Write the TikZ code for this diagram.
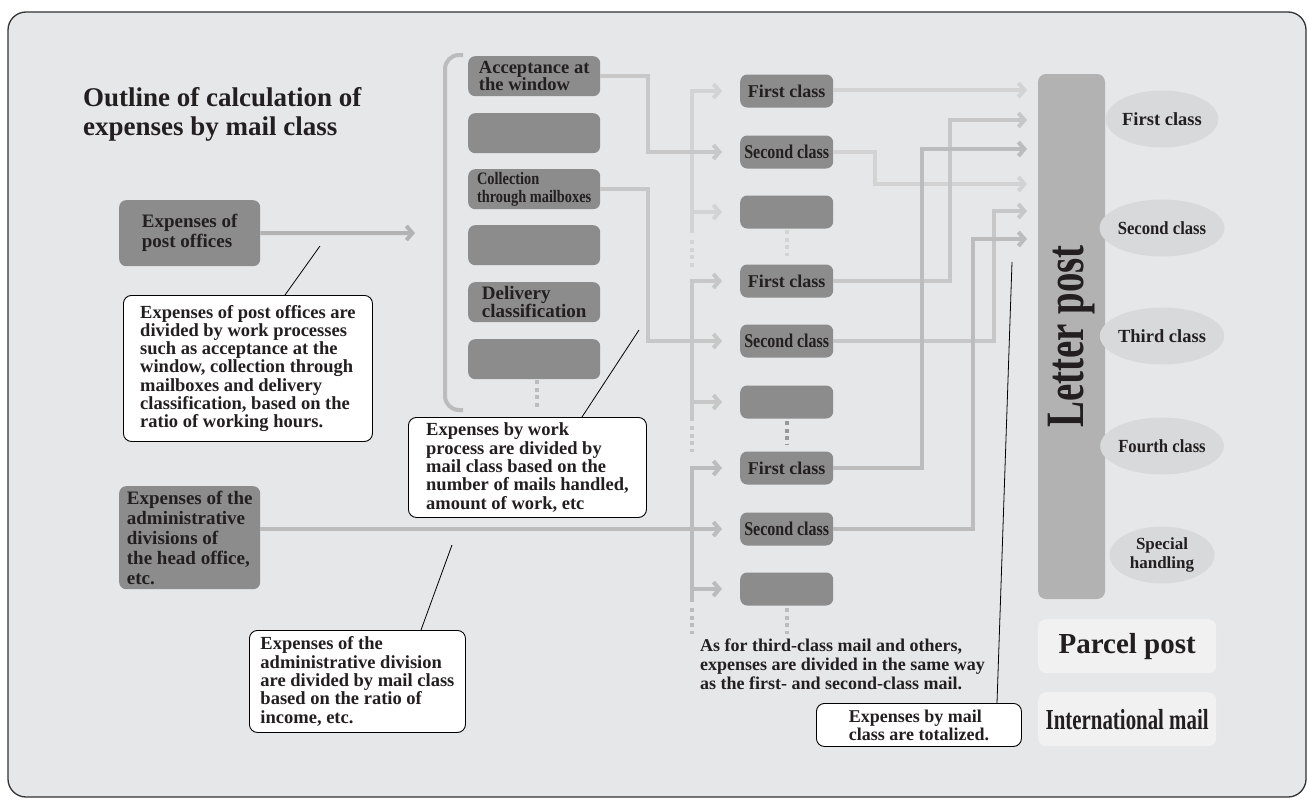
\documentclass[tikz,border=0pt]{standalone}
\usepackage{fontspec}
\setmainfont{Liberation Serif}
\newfontfamily\cnda[FakeStretch=0.82]{Liberation Serif}
\newfontfamily\cndb[FakeStretch=0.72]{Liberation Serif}
\newfontfamily\cndc[FakeStretch=0.9]{Liberation Serif}
\usetikzlibrary{arrows.meta,shapes.geometric,calc}
\definecolor{bg}{HTML}{E6E7E8}
\definecolor{dk}{HTML}{8C8C8C}
\definecolor{ink}{HTML}{231F20}
\definecolor{barc}{HTML}{B2B2B2}
\definecolor{ellc}{HTML}{D8D9DA}
\definecolor{pale}{HTML}{F1F1F2}
\definecolor{lnA}{HTML}{D3D3D3}
\definecolor{lnB}{HTML}{C7C7C7}
\definecolor{lnC}{HTML}{BCBCBC}
\definecolor{lnD}{HTML}{B3B3B3}
\newcommand\setfs[2]{\fontsize{#1}{#2}\selectfont}
\tikzset{
  darkbox/.style={fill=dk, rounded corners=7pt, inner sep=0pt, text=ink, align=left},
  clsbox/.style={darkbox, minimum width=93pt, minimum height=33pt, align=center, anchor=west},
  fcls/.style={font=\bfseries\setfs{18}{18}},
  scls/.style={font=\cnda\bfseries\setfs{19.5}{19.5}},
  wpbox/.style={darkbox, minimum width=132pt, minimum height=40pt, anchor=north west},
  srcbox/.style={darkbox, minimum width=141pt, anchor=north west, font=\bfseries\setfs{19}{20}},
  callout/.style={draw=black, fill=white, line width=0.9pt, rounded corners=8pt, inner sep=0pt, align=left, text=ink, font=\bfseries\setfs{18.5}{18.3}, anchor=north west},
  link/.style={line width=4pt},
  arr/.style={link, -{Straight Barb[length=6pt,width=14pt]}},
  into/.style={arr, shorten >=18pt},
  tolp/.style={arr, shorten >=11pt},
  dotln/.style={line width=4pt, dash pattern=on 4pt off 3.5pt},
  lead/.style={draw=black, line width=0.8pt},
  ell/.style={ellipse, fill=ellc, minimum width=105pt, minimum height=57pt, inner sep=0pt, text=ink, font=\bfseries\setfs{18.5}{18.5}, align=center},
  palebox/.style={fill=pale, rounded corners=8pt, minimum width=178pt, minimum height=54pt, inner sep=0pt, text=ink, anchor=north west},
  plain/.style={inner sep=0pt, align=left, text=ink, anchor=north west}
}
\begin{document}
\begin{tikzpicture}[x=1pt,y=-1pt]
\useasboundingbox (0,0) rectangle (1309,803);
\draw[draw=black!80, line width=1.3pt, fill=bg, rounded corners=18pt] (8,12) rectangle (1306,797);

% title
\node[plain, font=\bfseries\setfs{27}{29}] (title) at (83,87) {Outline of calculation of\\expenses by mail class};

% source boxes
\node[srcbox, minimum height=66pt] (po) at (119,200) {Expenses of\\post offices};
\node[srcbox, minimum height=103pt] (adm) at (119,486) {Expenses of the\\administrative\\divisions of\\the head office,\\etc.};

% bracket
\draw[link, draw=lnC, rounded corners=14pt] (463,55) -- (445,55) -- (445,410) -- (463,410);

% work process boxes
\node[wpbox, font=\bfseries\setfs{18.5}{17.5}] (wp1) at (468,56) {Acceptance at\\the window};
\node[wpbox] (wp2) at (468,113) {};
\node[wpbox, font=\cnda\bfseries\setfs{17.5}{18}] (wp3) at (468,169) {Collection\\through mailboxes};
\node[wpbox] (wp4) at (468,225) {};
\node[wpbox, font=\bfseries\setfs{19}{18}] (wp5) at (468,282) {Delivery\\classification};
\node[wpbox] (wp6) at (468,339) {};

% class boxes
\node[clsbox, fcls] (g1fc) at (740,91) {First class};
\node[clsbox, scls] (g1sc) at (740,152) {Second class};
\node[clsbox] (g1bl) at (740,212) {};
\node[clsbox, fcls] (g2fc) at (740,281) {First class};
\node[clsbox, scls] (g2sc) at (740,341) {Second class};
\node[clsbox] (g2bl) at (740,402) {};
\node[clsbox, fcls] (g3fc) at (740,468) {First class};
\node[clsbox, scls] (g3sc) at (740,529) {Second class};
\node[clsbox] (g3bl) at (740,589) {};

% letter post bar
\node[fill=barc, rounded corners=8pt, minimum width=525pt, minimum height=67pt, inner sep=0pt, rotate=90, text=ink, font=\cndb\bfseries\setfs{54}{54}] (lp) at (1071.5,336.5) {Letter post};
\coordinate (lpin1) at (1038,90);
\coordinate (lpin2) at (1038,120);
\coordinate (lpin3) at (1038,149);
\coordinate (lpin4) at (1038,184);
\coordinate (lpin5) at (1038,211);
\coordinate (lpin6) at (1038,239);

% ellipses
\node[ell] (e1) at (1162,119) {First class};
\node[ell, font=\cndc\bfseries\setfs{18.5}{18.5}] (e2) at (1162,228) {Second class};
\node[ell] (e3) at (1162,336) {Third class};
\node[ell, font=\cndc\bfseries\setfs{18.5}{18.5}] (e4) at (1162,446) {Fourth class};
\node[ell, font=\bfseries\setfs{17}{19}] (e5) at (1162,555) {Special\\handling};

% parcel / international
\node[palebox, font=\bfseries\setfs{29}{29}] (pp) at (1038,619) {Parcel post};
\node[palebox, font=\cndb\bfseries\setfs{29}{29}] (im) at (1038,692) {International mail};

% note text
\node[plain, font=\bfseries\setfs{18}{19}] (note) at (700,639) {As for third-class mail and others,\\expenses are divided in the same way\\as the first- and second-class mail.};

% post office arrow
\coordinate (poarr) at (415,233);
\draw[arr, draw=lnD] (po.east) -- (poarr);

% group 1
\coordinate (g1v) at (692,233);
\draw[into, draw=lnA] (g1v) |- (g1fc.west);
\draw[into, draw=lnA] (g1v |- g1bl) -- (g1bl.west);
\draw[into, draw=lnA!95!black] (wp1.east) -- ++(48,0) |- (g1sc.west);
\draw[dotln, draw=lnA] (692,240) -- (692,268);
\draw[dotln, draw=lnA] (787,230) -- (787,256);

% group 2
\coordinate (g2v) at (692,421);
\draw[into, draw=lnB] (g2v) |- (g2fc.west);
\draw[into, draw=lnB] (g2v |- g2bl) -- (g2bl.west);
\draw[into, draw=lnB] (wp3.east) -- ++(48,0) |- (g2sc.west);
\draw[dotln, draw=lnB] (692,426) -- (692,452);
\draw[dotln, draw=lnD!85!black] (787,421) -- (787,444);

% group 3
\coordinate (g3v) at (692,602);
\draw[into, draw=lnC] (g3v) |- (g3fc.west);
\draw[into, draw=lnC] (g3v |- g3bl) -- (g3bl.west);
\draw[into, draw=lnC] (adm.east |- g3sc) -- (g3sc.west);
\draw[dotln, draw=lnC] (692,608) -- (692,634);
\draw[dotln, draw=lnC] (787,608) -- (787,634);

% work process dots
\draw[dotln, draw=lnC] (537,380) -- (537,408);

% outputs to letter post
\draw[tolp, draw=lnA] (g1fc.east |- lpin1) -- (lpin1);
\draw[tolp, draw=lnA] (g1sc.east) -- ++(42,0) |- (lpin4);
\draw[tolp, draw=lnB] (g2fc.east) -- ++(117,0) |- (lpin2);
\draw[tolp, draw=lnB] (g2sc.east) -- ++(161,0) |- (lpin5);
\draw[tolp, draw=lnC] (g3fc.east) -- ++(89,0) |- (lpin3);
\draw[tolp, draw=lnC] (g3sc.east) -- ++(140,0) |- (lpin6);

% callouts
\node[callout, minimum width=249pt, minimum height=146pt] (co1) at (123,295) {Expenses of post offices are\\divided by work processes\\such as acceptance at the\\window, collection through\\mailboxes and delivery\\classification, based on the\\ratio of working hours.};
\node[callout, minimum width=238pt, minimum height=100pt] (co2) at (408,417) {Expenses by work\\process are divided by\\mail class based on the\\number of mails handled,\\amount of work, etc};
\node[callout, minimum width=216pt, minimum height=102pt] (co3) at (249,630) {Expenses of the\\administrative division\\are divided by mail class\\based on the ratio of\\income, etc.};
\node[callout, minimum width=205pt, minimum height=43pt, font=\bfseries\setfs{18}{18}] (co4) at (816,703) {Expenses by mail\\class are totalized.};

% leader lines
\coordinate (k1) at (320,246);
\coordinate (k2) at (639,330);
\coordinate (k3) at (452,545);
\coordinate (k4) at (1012,262);
\draw[lead] (k1) -- ($(co1.north west)+(162,0)$);
\draw[lead] (k2) -- ($(co2.north west)+(174,0)$);
\draw[lead] (k3) -- ($(co3.north west)+(172,0)$);
\draw[lead] (k4) -- ($(co4.north west)+(181,0)$);
\end{tikzpicture}
\end{document}
